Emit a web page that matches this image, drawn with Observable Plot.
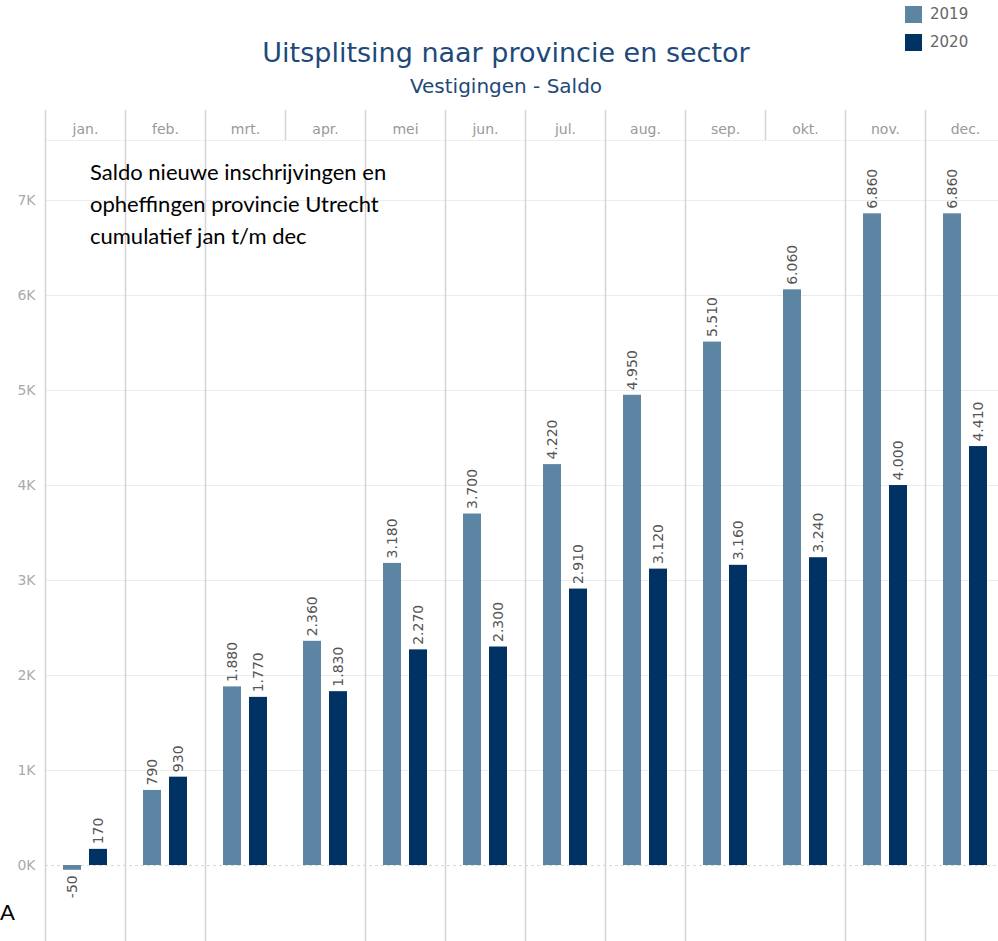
<!DOCTYPE html>
<html>
<head>
<meta charset="utf-8">
<script src="https://cdn.jsdelivr.net/npm/d3@7"></script>
<script src="https://cdn.jsdelivr.net/npm/@observablehq/plot@0.6"></script>
<style>
  html, body { margin: 0; padding: 0; background: #fff; overflow: hidden; }
  #wrap { position: relative; width: 998px; height: 941px; overflow: hidden; }
  #head { position: relative; width: 998px; height: 110px; }
  #chart { width: 1005px; height: 831px; }
  #chart svg { max-width: none !important; width: 1005px !important; height: 831px !important; display: block; }
  .title { position: absolute; left: 0; width: 1012px; text-align: center; font-family: "DejaVu Sans", sans-serif; color: #1d4a7a; }
  .legend { position: absolute; left: 905px; font-family: "DejaVu Sans", sans-serif; font-size: 15px; color: #666; display: flex; align-items: center; }
  .legend span.sw { display: inline-block; width: 17px; height: 17px; margin-right: 8px; }
  .note { position: absolute; font-family: "Lato", sans-serif; font-size: 22px; color: #000; line-height: 32px; }
</style>
</head>
<body>
<div id="wrap">
  <div id="head"></div>
  <div id="chart"></div>
</div>
<script>
const months = ["jan.", "feb.", "mrt.", "apr.", "mei", "jun.", "jul.", "aug.", "sep.", "okt.", "nov.", "dec."];
const values2019 = [-50, 790, 1880, 2360, 3180, 3700, 4220, 4950, 5510, 6060, 6860, 6860];
const values2020 = [170, 930, 1770, 1830, 2270, 2300, 2910, 3120, 3160, 3240, 4000, 4410];
const years = ["2019", "2020"];
const yearColors = ["#5c85a3", "#003263"];
const yTicks = [0, 1000, 2000, 3000, 4000, 5000, 6000, 7000];
const bodyDividerMonths = ["jan.", "feb.", "mrt.", "mei", "jun.", "jul.", "aug.", "sep.", "nov.", "dec."];
const titleText = "Uitsplitsing naar provincie en sector";
const subtitleText = "Vestigingen - Saldo";
const noteLines = ["Saldo nieuwe inschrijvingen en", "opheffingen provincie Utrecht", "cumulatief jan t/m dec"];

const d2019 = months.map((m, i) => ({month: m, year: "2019", value: values2019[i]}));
const d2020 = months.map((m, i) => ({month: m, year: "2020", value: values2020[i]}));

const nl = d3.formatLocale({decimal: ",", thousands: ".", grouping: [3], currency: ["€", ""], minus: "-"});
const fmt = nl.format(",d");

// header (title, subtitle, legend)
const head = document.getElementById("head");
head.innerHTML = `
  <div class="title" style="top:36px;font-size:27px;line-height:34px;">${titleText}</div>
  <div class="title" style="top:73px;font-size:20px;line-height:26px;">${subtitleText}</div>
  ${years.map((y, i) => `<div class="legend" style="top:${5 + i * 28}px;"><span class="sw" style="background:${yearColors[i]}"></span>${y}</div>`).join("")}
`;

const chart = Plot.plot({
  width: 1005,
  height: 831,
  marginLeft: 45,
  marginRight: 0,
  marginTop: 30,
  marginBottom: 0,
  style: {fontFamily: "DejaVu Sans, sans-serif", background: "#fff", maxWidth: "none"},
  x: {type: "band", domain: months, padding: 0, label: null},
  y: {domain: [-800, 7632], label: null},
  color: {domain: years, range: yearColors},
  marks: [
    Plot.gridY(yTicks.filter(d => d > 0), {stroke: "#ebebeb", strokeOpacity: 1}),
    Plot.frame({anchor: "top", stroke: "#eeeeee"}),
    Plot.ruleX(months, {x: d => d, dx: -40, y1: 7632, y2: 7948, stroke: "#d4d4d4", strokeWidth: 1.5}),
    Plot.ruleX(bodyDividerMonths, {x: d => d, dx: -40, y1: -800, y2: 7632, stroke: "#d4d4d4", strokeWidth: 1.5}),
    Plot.ruleY([0], {stroke: "#d8d8d8", strokeDasharray: "3,3"}),
    Plot.barY(d2019, {x: "month", y: "value", fill: "year", insetLeft: 18, insetRight: 44}),
    Plot.barY(d2020, {x: "month", y: "value", fill: "year", insetLeft: 44, insetRight: 18}),
    Plot.text(d2019.filter(d => d.value >= 0), {x: "month", y: "value", text: d => fmt(d.value), rotate: -90, textAnchor: "start", dx: -13, dy: -5, fontSize: 14, fill: "#555"}),
    Plot.text(d2019.filter(d => d.value < 0), {x: "month", y: "value", text: d => fmt(d.value), rotate: -90, textAnchor: "end", dx: -13, dy: 5, fontSize: 14, fill: "#555"}),
    Plot.text(d2020.filter(d => d.value >= 0), {x: "month", y: "value", text: d => fmt(d.value), rotate: -90, textAnchor: "start", dx: 13, dy: -5, fontSize: 14, fill: "#555"}),
    Plot.text(d2020.filter(d => d.value < 0), {x: "month", y: "value", text: d => fmt(d.value), rotate: -90, textAnchor: "end", dx: 13, dy: 5, fontSize: 14, fill: "#555"}),
    Plot.axisY(yTicks, {tickFormat: d => (d / 1000) + "K", tickSize: 0, tickPadding: 10, color: "#aaa", fontSize: 14, label: null}),
    Plot.axisX({anchor: "top", tickSize: 0, tickPadding: 7, color: "#999", fontSize: 14, label: null})
  ]
});
chart.style.maxWidth = "none";
document.getElementById("chart").appendChild(chart);

// annotations
const wrap = document.getElementById("wrap");
const note = document.createElement("div");
note.className = "note";
note.style.left = "90px";
note.style.top = "156px";
note.innerHTML = noteLines.join("<br>");
wrap.appendChild(note);
const a = document.createElement("div");
a.className = "note";
a.style.left = "0px";
a.style.top = "896px";
a.textContent = "A";
wrap.appendChild(a);
</script>
</body>
</html>
